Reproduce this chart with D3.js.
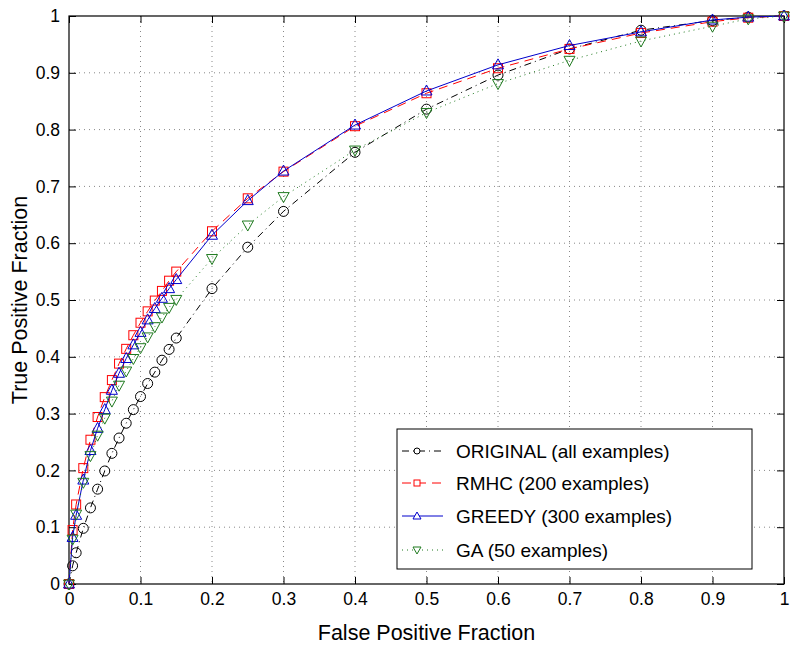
<!DOCTYPE html>
<html><head><meta charset="utf-8">
<script src="https://cdn.jsdelivr.net/npm/d3@7"></script>
<style>body{margin:0;background:#fff}svg{display:block}text{font-family:"Liberation Sans",Arial,sans-serif}</style>
</head><body><svg id="c" width="800" height="649"></svg>
<script>
const fpr = [0,0.005,0.01,0.02,0.03,0.04,0.05,0.06,0.07,0.08,0.09,0.1,0.11,0.12,0.13,0.14,0.15,0.2,0.25,0.3,0.4,0.5,0.6,0.7,0.8,0.9,0.95,1];
const original = [0,0.032,0.055,0.098,0.134,0.167,0.199,0.23,0.257,0.283,0.307,0.33,0.353,0.373,0.394,0.413,0.433,0.52,0.593,0.656,0.76,0.836,0.896,0.942,0.975,0.992,0.998,1];
const rmhc = [0,0.095,0.14,0.204,0.254,0.294,0.329,0.359,0.388,0.414,0.438,0.46,0.48,0.499,0.516,0.534,0.55,0.621,0.679,0.726,0.806,0.864,0.908,0.942,0.97,0.99,0.997,1];
const greedy = [0,0.082,0.121,0.183,0.235,0.274,0.307,0.341,0.371,0.397,0.421,0.443,0.465,0.485,0.503,0.52,0.536,0.614,0.675,0.727,0.808,0.868,0.914,0.948,0.972,0.993,0.998,1];
const ga = [0,0.079,0.123,0.179,0.226,0.262,0.292,0.322,0.35,0.375,0.397,0.416,0.435,0.453,0.47,0.487,0.501,0.573,0.632,0.682,0.764,0.83,0.881,0.922,0.956,0.982,0.995,1];
const seriesNames = ["ORIGINAL (all examples)","RMHC (200 examples)","GREEDY (300 examples)","GA (50 examples)"];
const ticks = [0,0.1,0.2,0.3,0.4,0.5,0.6,0.7,0.8,0.9,1];
const tickLabels = ["0","0.1","0.2","0.3","0.4","0.5","0.6","0.7","0.8","0.9","1"];

const svg = d3.select("#c");
const L=69,R=784,T=16,B=584;
const x = d3.scaleLinear().domain([0,1]).range([L,R]);
const y = d3.scaleLinear().domain([0,1]).range([B,T]);

// grid
const g = svg.append("g");
ticks.forEach(t=>{
  if(t>0&&t<1){
    g.append("line").attr("x1",x(t)).attr("x2",x(t)).attr("y1",T).attr("y2",B).attr("stroke","#888").attr("stroke-width",1).attr("stroke-dasharray","1,4");
    g.append("line").attr("y1",y(t)).attr("y2",y(t)).attr("x1",L).attr("x2",R).attr("stroke","#888").attr("stroke-width",1).attr("stroke-dasharray","1,4");
  }
});

// axes
const fmt = (d,i)=>tickLabels[i];
const ax = svg.append("g").attr("transform",`translate(0,${B})`).call(d3.axisBottom(x).tickValues(ticks).tickFormat(fmt).tickSize(-7).tickPadding(9));
const axT = svg.append("g").attr("transform",`translate(0,${T})`).call(d3.axisTop(x).tickValues(ticks).tickFormat("").tickSize(-7));
const ay = svg.append("g").attr("transform",`translate(${L},0)`).call(d3.axisLeft(y).tickValues(ticks).tickFormat(fmt).tickSize(-7).tickPadding(9));
const ayR = svg.append("g").attr("transform",`translate(${R},0)`).call(d3.axisRight(y).tickValues(ticks).tickFormat("").tickSize(-7));
[ax,axT,ay,ayR].forEach(a=>{a.select(".domain").remove();a.selectAll("line").attr("stroke","#000");a.selectAll("text").attr("font-size",17.5).attr("fill","#000").style("font-family","'Liberation Sans',Arial,sans-serif");});
svg.append("rect").attr("x",L).attr("y",T).attr("width",R-L).attr("height",B-T).attr("fill","none").attr("stroke","#000").attr("stroke-width",1.2);

svg.append("text").attr("x",(L+R)/2).attr("y",640).attr("text-anchor","middle").attr("font-size",21.5).text("False Positive Fraction");
svg.append("text").attr("transform",`translate(27,${(T+B)/2}) rotate(-90)`).attr("text-anchor","middle").attr("font-size",21.5).text("True Positive Fraction");

const styles = [
  {data:original,color:"#000",dash:"7,4,1,4",marker:"circle"},
  {data:rmhc,color:"#ff0000",dash:"9,6",marker:"square"},
  {data:greedy,color:"#0000cc",dash:null,marker:"triangle"},
  {data:ga,color:"#1f7a1f",dash:"1,4",marker:"down"}
];
const line = d3.line().x(d=>x(d[0])).y(d=>y(d[1]));
function drawMarker(sel,type,cx,cy,color){
  if(type==="circle") sel.append("circle").attr("cx",cx).attr("cy",cy).attr("r",5).attr("fill","none").attr("stroke",color).attr("stroke-width",1);
  else if(type==="square") sel.append("rect").attr("x",cx-4.5).attr("y",cy-4.5).attr("width",9).attr("height",9).attr("fill","none").attr("stroke",color).attr("stroke-width",1);
  else if(type==="triangle") sel.append("path").attr("d",`M${cx},${cy-6}L${cx+5.5},${cy+4}L${cx-5.5},${cy+4}Z`).attr("fill","none").attr("stroke",color).attr("stroke-width",1);
  else sel.append("path").attr("d",`M${cx},${cy+6}L${cx+5.5},${cy-4}L${cx-5.5},${cy-4}Z`).attr("fill","none").attr("stroke",color).attr("stroke-width",1);
}
styles.forEach(s=>{
  const pts = fpr.map((f,i)=>[f,s.data[i]]);
  const p = svg.append("path").attr("d",line(pts)).attr("fill","none").attr("stroke",s.color).attr("stroke-width",1);
  if(s.dash) p.attr("stroke-dasharray",s.dash);
  const mg = svg.append("g");
  pts.forEach(d=>drawMarker(mg,s.marker,x(d[0]),y(d[1]),s.color));
});

// legend
const lg = svg.append("g");
lg.append("rect").attr("x",397).attr("y",429).attr("width",355).attr("height",140).attr("fill","#fff").attr("stroke","#000").attr("stroke-width",1);
const ly = [451,483,516,550];
styles.forEach((s,i)=>{
  const l = lg.append("line").attr("x1",402).attr("x2",443).attr("y1",ly[i]).attr("y2",ly[i]).attr("stroke",s.color).attr("stroke-width",1);
  if(s.dash) l.attr("stroke-dasharray",s.dash);
  const m = lg.append("g");
  if(s.marker==="circle") m.append("circle").attr("cx",417).attr("cy",ly[i]).attr("r",3).attr("fill","#fff").attr("stroke",s.color);
  else if(s.marker==="square") m.append("rect").attr("x",414).attr("y",ly[i]-3).attr("width",6).attr("height",6).attr("fill","#fff").attr("stroke",s.color);
  else if(s.marker==="triangle") m.append("path").attr("d",`M417,${ly[i]-4}L421,${ly[i]+3}L413,${ly[i]+3}Z`).attr("fill","#fff").attr("stroke",s.color);
  else m.append("path").attr("d",`M417,${ly[i]+4}L421,${ly[i]-3}L413,${ly[i]-3}Z`).attr("fill","#fff").attr("stroke",s.color);
  lg.append("text").attr("x",456).attr("y",ly[i]+7).attr("font-size",19).text(seriesNames[i]);
});
</script></body></html>
